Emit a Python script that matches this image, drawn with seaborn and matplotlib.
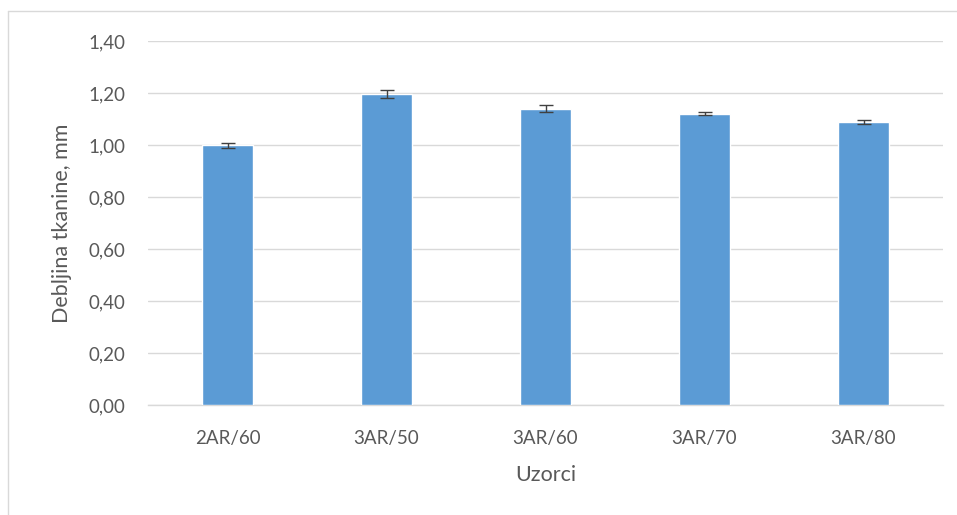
import matplotlib
matplotlib.use("Agg")
import matplotlib.pyplot as plt
import seaborn as sns
import pandas as pd
import numpy as np
from matplotlib.lines import Line2D
from matplotlib.ticker import FuncFormatter

categories = ["2AR/60", "3AR/50", "3AR/60", "3AR/70", "3AR/80"]
values = [0.999, 1.196, 1.140, 1.121, 1.089]
errors = [0.010, 0.016, 0.013, 0.006, 0.007]
yticks = [0.0, 0.2, 0.4, 0.6, 0.8, 1.0, 1.2, 1.4]

sns.set_theme(style="white")
plt.rcParams['font.family'] = ['Lato', 'DejaVu Sans']

df = pd.DataFrame({"Uzorci": categories, "v": values})

fig = plt.figure(figsize=(9.57, 5.15), dpi=100)
ax = fig.add_axes([148/957, 1-405/515, (943-148)/957, (405-41)/515])

sns.barplot(data=df, x="Uzorci", y="v", color="#5B9BD5", saturation=1,
            width=0.315, ax=ax, errorbar=None, zorder=3)
ax.errorbar(np.arange(len(categories)), values, yerr=errors, fmt="none",
            ecolor="#404040", elinewidth=1, capsize=5, capthick=1, zorder=4)

ax.set_ylim(0, 1.4)
ax.set_xlim(-0.5, len(categories) - 0.5)
ax.set_yticks(yticks)
ax.yaxis.set_major_formatter(FuncFormatter(lambda v, p: f"{v:.2f}".replace(".", ",")))
ax.grid(axis="y", color="#D9D9D9", linewidth=1, zorder=0)
ax.set_axisbelow(True)
for s in ["top", "right", "left"]:
    ax.spines[s].set_visible(False)
ax.spines["bottom"].set_color("#D9D9D9")
ax.spines["bottom"].set_linewidth(1)
ax.tick_params(axis="both", length=0, labelsize=13.5, colors="#595959")
ax.tick_params(axis="x", pad=18)
ax.tick_params(axis="y", pad=16)
ax.set_xlabel("Uzorci", fontsize=15.5, color="#595959", labelpad=13)
ax.set_ylabel("Debljina tkanine, mm", fontsize=15.5, color="#595959", labelpad=12)

# outer chart border (left and top visible)
fig.add_artist(Line2D([8/957, 8/957], [0, 1-11/515], transform=fig.transFigure,
                      color="#D9D9D9", linewidth=1))
fig.add_artist(Line2D([8/957, 1], [1-11/515, 1-11/515], transform=fig.transFigure,
                      color="#D9D9D9", linewidth=1))

fig.savefig("out.png", dpi=100)
